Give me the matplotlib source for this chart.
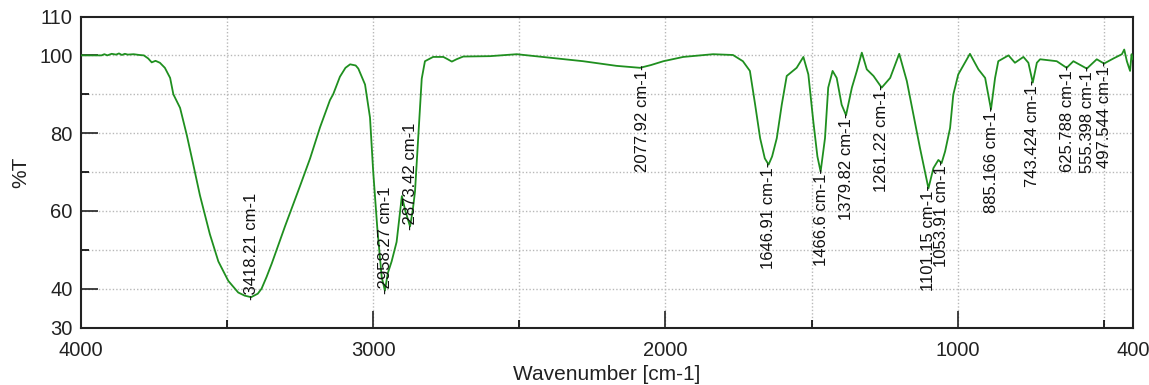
import matplotlib
matplotlib.use('Agg')
import matplotlib.pyplot as plt
from matplotlib.ticker import FixedLocator

plt.rcParams['font.family'] = ['Liberation Sans', 'DejaVu Sans']

wavenumber = [4000, 3930, 3920, 3910, 3895, 3880, 3870, 3860, 3850, 3840, 3820, 3800, 3785,
              3770, 3758, 3745, 3730, 3713, 3695, 3684, 3661, 3638, 3616, 3593, 3559, 3530,
              3496, 3462, 3440, 3418, 3395, 3382, 3365, 3347, 3302, 3250, 3216, 3182, 3148,
              3137, 3114, 3095, 3079, 3060, 3051, 3028, 3011, 3000, 2986, 2971, 2960, 2950,
              2937, 2920, 2902, 2890, 2874, 2865, 2857, 2846, 2834, 2823, 2795, 2760, 2745,
              2731, 2715, 2692, 2600, 2509, 2395, 2282, 2167, 2087, 2050, 2007, 1939, 1880,
              1837, 1769, 1735, 1711, 1693, 1676, 1660, 1647, 1635, 1619, 1602, 1585, 1551,
              1528, 1511, 1494, 1480, 1469, 1454, 1443, 1428, 1414, 1397, 1382, 1362, 1345,
              1328, 1311, 1288, 1260, 1231, 1220, 1200, 1174, 1129, 1100, 1083, 1066, 1055,
              1043, 1026, 1015, 998, 958, 929, 906, 886, 872, 861, 826, 804, 775, 758, 743,
              729, 718, 661, 627, 604, 558, 524, 499, 467, 438, 430, 421, 410, 405, 400]
transmittance = [100.0, 100.0, 100.3, 100.0, 100.4, 100.2, 100.5, 100.1, 100.4, 100.2, 100.3,
                 100.1, 100.0, 99.2, 98.2, 98.6, 98.1, 96.8, 94.2, 90.0, 86.5, 79.5, 72.0, 64.0,
                 54.0, 47.0, 42.0, 39.0, 38.2, 37.8, 38.7, 40.0, 43.0, 46.5, 56.0, 66.5, 73.5,
                 81.5, 88.5, 90.0, 94.5, 96.8, 97.7, 97.4, 96.6, 92.5, 84.0, 70.0, 55.5, 43.0,
                 39.5, 44.0, 47.0, 52.0, 63.8, 60.0, 56.0, 60.0, 65.0, 78.7, 94.0, 98.5, 99.6,
                 99.6, 99.0, 98.4, 99.0, 99.7, 99.8, 100.3, 99.4, 98.5, 97.3, 96.8, 97.5, 98.5,
                 99.6, 100.0, 100.3, 100.1, 98.5, 96.0, 87.3, 78.7, 73.5, 71.9, 74.0, 78.7, 87.3,
                 94.7, 96.8, 99.6, 95.1, 83.0, 74.0, 70.1, 78.7, 91.7, 96.0, 94.2, 87.3, 84.6,
                 91.7, 96.0, 100.7, 96.4, 94.7, 91.7, 94.2, 96.4, 100.4, 93.4, 76.2, 65.8, 71.0,
                 73.1, 72.3, 75.3, 81.3, 89.9, 95.1, 100.4, 96.4, 94.2, 86.1, 94.2, 98.5, 100.0,
                 98.1, 99.6, 98.1, 93.0, 98.1, 99.0, 98.5, 96.8, 98.5, 96.6, 99.0, 97.9, 99.2,
                 100.3, 101.5, 98.5, 96.0, 100.3, 99.0]

peak_wn = [3418.21, 2958.27, 2873.42, 2077.92, 1646.91, 1466.6, 1379.82, 1261.22,
           1101.15, 1053.91, 885.166, 743.424, 625.788, 555.398, 497.544]
peak_T = [37.9, 39.5, 56.0, 96.8, 71.9, 70.1, 84.6, 91.7, 65.8, 72.3, 86.1, 93.0,
          96.8, 96.6, 97.9]
peak_above = [True, True, True, False, False, False, False, False, False, False,
              False, False, False, False, False]

x_major = [4000, 3000, 2000, 1000, 400]
x_minor = [3500, 2500, 1500, 500]
y_major = [30, 40, 60, 80, 100, 110]
y_minor = [50, 70, 90]
x_grid = [3500, 3000, 2500, 2000, 1500, 1000, 500]
y_grid = [40, 50, 60, 70, 80, 90, 100]

fig = plt.figure(figsize=(11.49, 3.85), dpi=100)
ax = fig.add_axes([81 / 1149, 1 - 327.5 / 385, (1133 - 81) / 1149, (327.5 - 16.5) / 385])

for g in x_grid:
    ax.axvline(g, color='#b8b8b8', lw=1.0, ls=(0, (1, 1.5)), zorder=0)
for g in y_grid:
    ax.axhline(g, color='#b8b8b8', lw=1.0, ls=(0, (1, 1.5)), zorder=0)

ax.plot(wavenumber, transmittance, color='#1f8f1f', lw=1.3, zorder=3)

for wn, t, up in zip(peak_wn, peak_T, peak_above):
    if up:
        ax.text(wn, t - 0.8, '-' + f'{wn:g} cm-1', rotation=90, ha='center', va='bottom',
                fontsize=12, color='#111111', zorder=4)
    else:
        ax.text(wn, t + 0.8, f'{wn:g} cm-1' + '-', rotation=90, ha='center', va='top',
                fontsize=12, color='#111111', zorder=4)

ax.set_xlim(4000, 400)
ax.set_ylim(30, 110)
ax.xaxis.set_major_locator(FixedLocator(x_major))
ax.xaxis.set_minor_locator(FixedLocator(x_minor))
ax.yaxis.set_major_locator(FixedLocator(y_major))
ax.yaxis.set_minor_locator(FixedLocator(y_minor))
ax.set_xticklabels([str(v) for v in x_major])
ax.set_yticklabels([str(v) for v in y_major])
ax.tick_params(axis='both', which='major', direction='in', length=12, width=1.2,
               labelsize=14.5, colors='#222222')
ax.tick_params(axis='both', which='minor', direction='in', length=6, width=1.2)
ax.tick_params(axis='x', which='major', pad=10)
ax.tick_params(axis='y', which='major', pad=6)

for s in ax.spines.values():
    s.set_linewidth(1.5)
    s.set_color('#222222')

ax.set_xlabel('Wavenumber [cm-1]', fontsize=15, color='#222222', labelpad=3)
ax.set_ylabel('%T', fontsize=15, color='#222222')
ax.yaxis.set_label_coords(-0.048, 0.5)

fig.savefig('out.png', dpi=100, facecolor='white')
